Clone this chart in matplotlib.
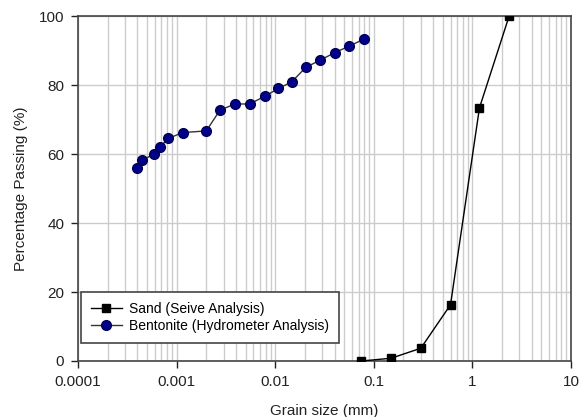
import numpy as np
import matplotlib.pyplot as plt
from matplotlib.ticker import FuncFormatter, LogLocator, NullFormatter

plt.rcParams['font.family'] = ['Liberation Sans', 'DejaVu Sans']

# Sand (sieve analysis)
sand_size = [0.075, 0.15, 0.3, 0.6, 1.18, 2.36]
sand_pass = [0.0, 0.8, 3.7, 16.3, 73.4, 100.0]

# Bentonite (hydrometer analysis)
bent_size = [0.0004, 0.00045, 0.00059, 0.00068, 0.00082, 0.00115, 0.002,
             0.00275, 0.0039, 0.0055, 0.0078, 0.0108, 0.0147, 0.0204,
             0.0285, 0.0404, 0.0565, 0.0796]
bent_pass = [55.9, 58.2, 60.0, 62.0, 64.5, 66.2, 66.7, 72.7, 74.5, 74.5,
             76.7, 79.0, 80.9, 85.1, 87.2, 89.4, 91.3, 93.3]

fig = plt.figure(figsize=(5.84, 4.17), dpi=100)
ax = fig.add_axes([0.1336, 0.1343, 0.8441, 0.8273])

ax.plot(sand_size, sand_pass, color='black', lw=1.0, marker='s', ms=6,
        mfc='black', mec='black', label='Sand (Seive Analysis)', zorder=3)
ax.plot(bent_size, bent_pass, color='#333333', lw=1.0, marker='o', ms=7,
        mfc='#00008f', mec='#000050', label='Bentonite (Hydrometer Analysis)', zorder=3)

ax.set_xscale('log')
ax.set_xlim(0.0001, 10)
ax.set_ylim(0, 100)
ax.set_yticks([0, 20, 40, 60, 80, 100])
ax.xaxis.set_major_locator(LogLocator(base=10, numticks=10))
ax.xaxis.set_minor_locator(LogLocator(base=10, subs=np.arange(2, 10), numticks=50))
ax.xaxis.set_major_formatter(FuncFormatter(lambda v, p: '%g' % v))
ax.xaxis.set_minor_formatter(NullFormatter())

ax.grid(True, which='both', axis='x', color='#cccccc', lw=1.0)
ax.grid(True, which='major', axis='y', color='#cccccc', lw=1.0)
ax.set_axisbelow(True)

ax.tick_params(which='major', direction='out', length=5, width=1, labelsize=11,
               colors='#222222', top=False, right=False, pad=5)
ax.tick_params(which='minor', length=0)
for s in ax.spines.values():
    s.set_color('#444444')
    s.set_linewidth(1.2)

ax.set_xlabel('Grain size (mm)', fontsize=11, color='#222222', labelpad=11)
ax.set_ylabel('Percentage Passing (%)', fontsize=11, color='#222222', labelpad=8)

leg = ax.legend(loc='lower left', bbox_to_anchor=(0.0, 0.044), fontsize=10,
                fancybox=False, edgecolor='#444444', framealpha=1,
                borderpad=0.7, handlelength=2.3, labelspacing=0.25,
                handletextpad=0.5, borderaxespad=0.2)
leg.get_frame().set_linewidth(1.2)

fig.savefig('out.png', dpi=100)
